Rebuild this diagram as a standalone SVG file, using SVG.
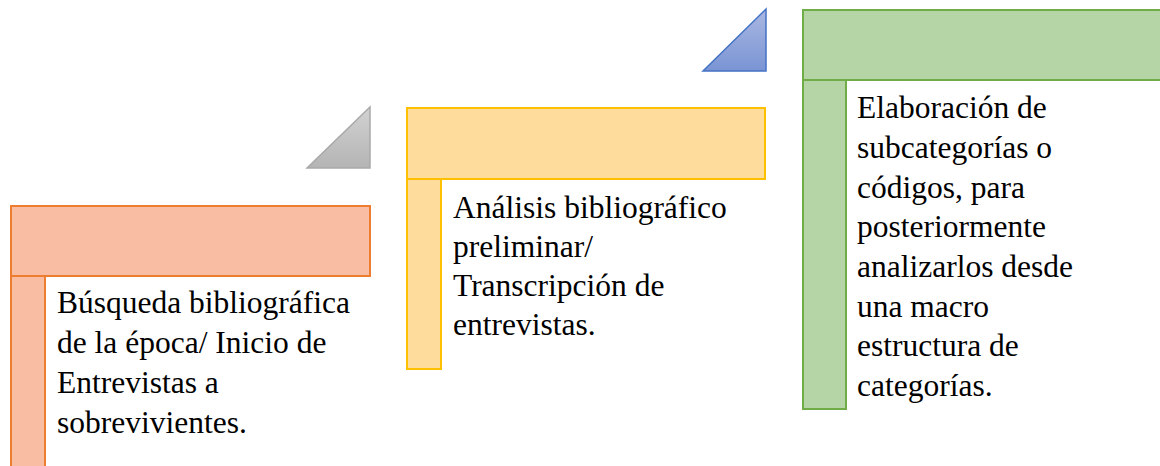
<svg xmlns="http://www.w3.org/2000/svg" width="1160" height="466" viewBox="0 0 1160 466">
<defs>
<linearGradient id="gGray" x1="0" y1="0" x2="0" y2="1">
<stop offset="0" stop-color="#d2d2d2"/>
<stop offset="1" stop-color="#b4b4b4"/>
</linearGradient>
<linearGradient id="gBlue" x1="0" y1="0" x2="0" y2="1">
<stop offset="0" stop-color="#aab8e2"/>
<stop offset="1" stop-color="#7a94d4"/>
</linearGradient>
<style>
.t{font-family:"Liberation Serif","Times New Roman",serif;font-size:31.5px;fill:#000}
.or{fill:#f8bda3;stroke:#ed7d31;stroke-width:2}
.ye{fill:#fedc9b;stroke:#ffc000;stroke-width:2}
.gr{fill:#b5d5a7;stroke:#70ad47;stroke-width:2}
</style>
</defs>
<rect width="1160" height="466" fill="#ffffff"/>
<g id="arrow-gray">
<polygon points="307,168 370,107 370,168" fill="url(#gGray)" stroke="#a9a9a9" stroke-width="1.5"/>
</g>
<g id="arrow-blue">
<polygon points="703,71 766,9 766,71" fill="url(#gBlue)" stroke="#4472c4" stroke-width="1.5"/>
</g>
<g id="step1">
<rect class="or" x="11" y="276" width="34" height="200"/>
<rect class="or" x="11" y="206" width="359" height="70"/>
<text class="t" x="57" y="313">Búsqueda bibliográfica</text>
<text class="t" x="57" y="353">de la época/ Inicio de</text>
<text class="t" x="57" y="393">Entrevistas a</text>
<text class="t" x="57" y="433">sobrevivientes.</text>
</g>
<g id="step2">
<rect class="ye" x="407" y="179" width="34" height="190"/>
<rect class="ye" x="407" y="108" width="358" height="71"/>
<text class="t" x="453" y="218">Análisis bibliográfico</text>
<text class="t" x="453" y="257">preliminar/</text>
<text class="t" x="453" y="296">Transcripción de</text>
<text class="t" x="453" y="335">entrevistas.</text>
</g>
<g id="step3">
<rect class="gr" x="803" y="80" width="43" height="329"/>
<rect class="gr" x="803" y="10" width="370" height="70"/>
<text class="t" x="857" y="118">Elaboración de</text>
<text class="t" x="857" y="158">subcategorías o</text>
<text class="t" x="857" y="198">códigos, para</text>
<text class="t" x="857" y="237">posteriormente</text>
<text class="t" x="857" y="277">analizarlos desde</text>
<text class="t" x="857" y="317">una macro</text>
<text class="t" x="857" y="356">estructura de</text>
<text class="t" x="857" y="396">categorías.</text>
</g>
<g id="connectors"/>
</svg>
